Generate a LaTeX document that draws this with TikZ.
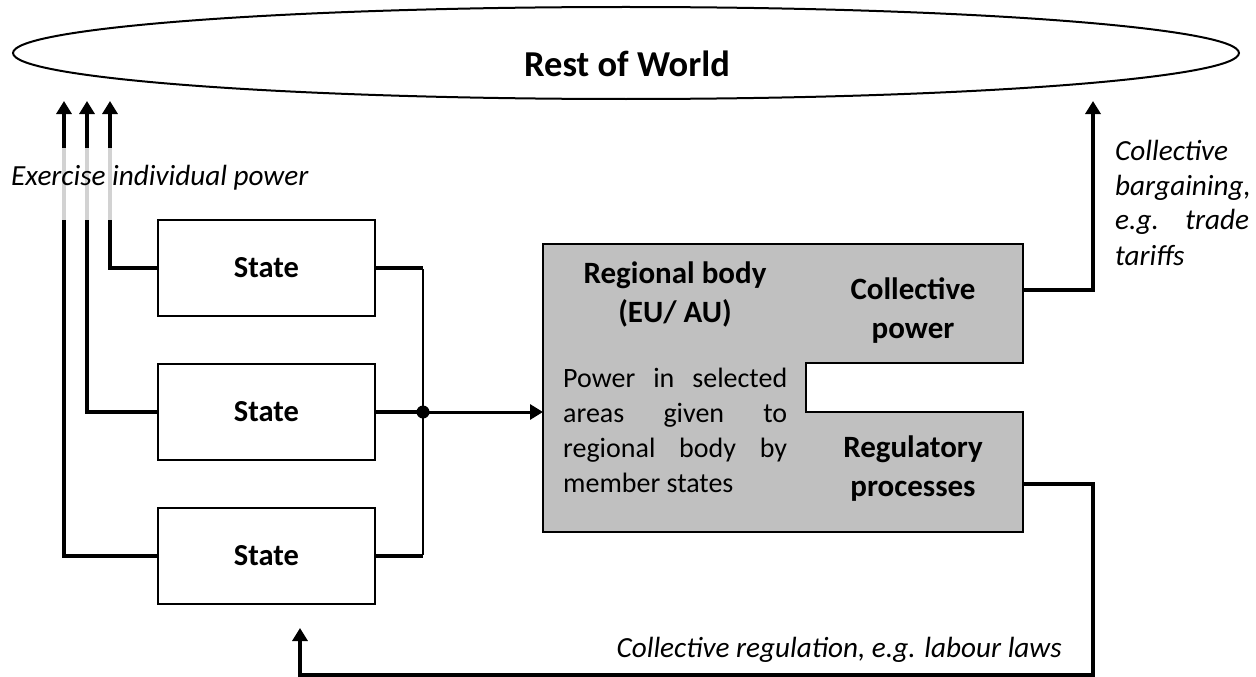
\documentclass[tikz,border=0pt]{standalone}
\usepackage{fontspec}
\setmainfont{Carlito}
\usetikzlibrary{arrows.meta,shapes.geometric}
\definecolor{bodygray}{HTML}{C0C0C0}
\definecolor{fadegray}{HTML}{D2D2D2}
\begin{document}
\begin{tikzpicture}[x=1pt,y=-1pt,
  statebox/.style={draw, line width=1.6pt, minimum width=217pt, minimum height=96pt,
    inner sep=0pt, font=\bfseries\fontsize{30.5}{36}\selectfont},
  heavy/.style={line width=4pt},
  light/.style={line width=2pt},
  tip/.style={-{Triangle[width=15pt,length=13pt]}},
  headtxt/.style={inner sep=0pt, align=center, font=\bfseries\fontsize{31}{38.5}\selectfont},
  bodytxt/.style={inner sep=0pt, font=\fontsize{28}{35}\selectfont},
  notetxt/.style={inner sep=0pt, font=\itshape\fontsize{29.2}{35}\selectfont}]
\useasboundingbox (0,0) rectangle (1256,677);

% Rest of World
\node[draw, line width=2pt, ellipse, minimum width=1226pt, minimum height=92pt, inner sep=0pt]
  (world) at (626,53) {};
\node[inner sep=0pt, anchor=base, font=\bfseries\fontsize{36.5}{43}\selectfont] (worldtxt) at (627,77) {Rest of World};

% member states
\node[statebox] (s1) at (266.5,268) {State};
\node[statebox] (s2) at (266.5,412) {State};
\node[statebox] (s3) at (266.5,556) {State};

% individual power arrows
\coordinate (up1) at (110,101);
\coordinate (up2) at (87,101);
\coordinate (up3) at (64,101);
\draw[heavy, tip] (s1.west) -| (up1);
\draw[heavy, tip] (s2.west) -| (up2);
\draw[heavy, tip] (s3.west) -| (up3);
\foreach \xx in {64,87,110}
  \draw[line width=4pt, fadegray] (\xx,148) -- (\xx,220);
\node[notetxt, anchor=base west] (indiv) at (11,185) {Exercise individual power};

% regional body with notch
\coordinate (rbin) at (543,412);
\coordinate (cpout) at (1023,290);
\coordinate (rpout) at (1023,484);
\filldraw[fill=bodygray, line width=1.6pt]
  (543,244) -- (1023,244) -- (1023,363) -- (806,363) -- (806,412)
  -- (1023,412) -- (1023,532) -- (543,532) -- cycle;
% two-line headings: the base anchor sits on the last line
\node[headtxt, anchor=base] (rbname) at (675,322) {Regional body\\(EU/ AU)};
\node[headtxt, anchor=base] (cpname) at (913,338) {Collective\\power};
\node[headtxt, anchor=base] (rpname) at (913,496) {Regulatory\\processes};
\node[bodytxt, anchor=base west, text width=224pt, align=justify] (rbdesc) at (563,387)
  {Power in selected\linebreak areas given to\linebreak regional body by\linebreak member states};

% junction of the member states
\coordinate (jt) at (423,268);
\coordinate (j) at (423,412);
\coordinate (jb) at (423,556);
\draw[heavy] (s1.east) -- (jt);
\draw[heavy] (s3.east) -- (jb);
\draw[light] ([yshift=-1pt]jt) -- ([yshift=1pt]jb);
\draw[heavy] (s2.east) -- (j);
\draw[line width=3pt, tip] (j) -- (rbin);
\fill (j) circle (6.5pt);

% collective bargaining
\coordinate (cptop) at (1093,101);
\draw[heavy, tip] (cpout) -| (cptop);
\node[notetxt, anchor=base west, text width=134pt, align=justify] (cbtxt) at (1115,160)
  {Collective\\bargaining,\\e.g. trade\linebreak tariffs};

% collective regulation back to the states
\coordinate (back) at (300,628);
\draw[heavy, tip] (rpout) -- (1093,484) -- (1093,675) -| (back);
\node[notetxt, anchor=base east] (crtxt) at (1062,657) {Collective regulation, e.g. labour laws};
\end{tikzpicture}
\end{document}
